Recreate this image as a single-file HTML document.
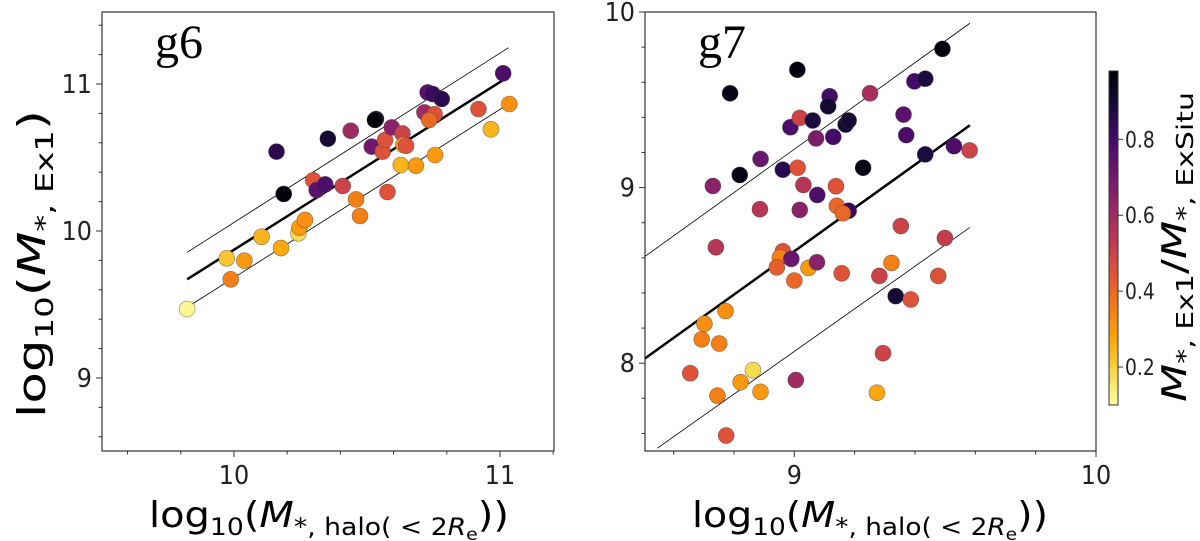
<!DOCTYPE html>
<html><head><meta charset="utf-8"><style>
html,body{margin:0;padding:0;background:#fff;}
svg{display:block;font-family:"DejaVu Sans","Liberation Sans",sans-serif;}
</style></head><body>
<svg id="chart" width="1200" height="541" viewBox="0 0 1200 541" xmlns="http://www.w3.org/2000/svg"></svg>
<script>
// ---- panel g6 data ----
const g6X = [9.824,9.973,9.988,10.039,10.104,10.177,10.160,10.187,10.242,10.246,10.267,10.298,10.311,10.343,10.353,10.409,10.439,10.459,10.474,10.518,10.534,10.530,10.559,10.568,10.577,10.593,10.627,10.633,10.637,10.647,10.684,10.716,10.728,10.747,10.754,10.756,10.781,10.919,10.966,11.012,11.035,10.734];
const g6Y = [9.469,9.814,9.671,9.798,9.961,9.884,10.540,10.252,9.984,10.023,10.075,10.345,10.279,10.317,10.628,10.306,10.682,10.215,10.102,10.574,10.762,10.755,10.540,10.619,10.265,10.705,10.449,10.664,10.585,10.580,10.444,10.807,10.943,10.932,10.794,10.517,10.898,10.830,10.692,11.073,10.864,10.755];
const g6C = [0.12,0.22,0.35,0.3,0.25,0.27,0.85,0.97,0.18,0.3,0.32,0.45,0.75,0.78,0.9,0.5,0.6,0.35,0.35,0.7,0.88,0.97,0.45,0.45,0.45,0.65,0.25,0.5,0.3,0.45,0.3,0.6,0.75,0.82,0.45,0.3,0.85,0.45,0.25,0.78,0.32,0.4];
const g6LineX = [9.824,11.032];
const g6FitY = [9.671,11.050];
const g6UpY = [9.855,11.247];
const g6LoY = [9.481,10.864];
const g6XTicks = [10,11];
const g6YTicks = [9,10,11];
// ---- panel g7 data ----
const g7X = [8.787,9.010,9.491,8.819,8.730,8.888,8.886,8.740,8.987,9.018,9.061,9.072,8.962,9.011,9.030,9.076,9.018,9.117,9.112,9.129,9.170,9.180,9.138,9.141,9.180,9.161,9.251,9.228,9.398,9.434,9.362,9.371,9.434,9.529,9.581,9.353,9.499,8.962,8.952,8.990,8.942,9.047,9.075,9.000,9.157,9.282,9.322,9.336,9.386,9.477,8.772,8.702,8.693,8.751,8.655,8.863,8.822,8.888,8.745,9.005,9.294,9.274,8.774];
const g7Y = [9.537,9.671,9.790,9.072,9.009,9.163,8.877,8.660,9.344,9.397,9.382,9.280,9.102,9.113,9.015,8.958,8.873,9.520,9.463,9.289,9.359,9.382,9.008,8.896,8.868,8.854,9.537,9.113,9.605,9.620,9.416,9.299,9.189,9.236,9.212,8.781,8.713,8.637,8.603,8.594,8.546,8.543,8.575,8.471,8.512,8.497,8.571,8.382,8.363,8.497,8.297,8.225,8.136,8.112,7.943,7.960,7.892,7.837,7.815,7.904,8.057,7.832,7.588];
const g7C = [0.95,0.96,0.97,0.95,0.65,0.72,0.55,0.55,0.78,0.5,0.88,0.68,0.85,0.45,0.55,0.78,0.65,0.8,0.9,0.8,0.9,0.9,0.45,0.4,0.82,0.4,0.58,0.95,0.8,0.88,0.75,0.78,0.88,0.78,0.5,0.5,0.52,0.45,0.35,0.72,0.42,0.3,0.65,0.4,0.45,0.5,0.35,0.9,0.45,0.45,0.32,0.32,0.35,0.35,0.45,0.18,0.3,0.3,0.35,0.6,0.5,0.27,0.45];
const g7LineX = [8.504,9.582];
const g7FitY = [8.026,9.355];
const g7UpY = [8.607,9.936];
const g7LoX = [8.546,9.582];
const g7LoY = [7.516,8.773];
const g7XTicks = [9,10];
const g7YTicks = [8,9,10];
const cbTicks = [0.2,0.4,0.6,0.8];
const cbMin = 0.1, cbMax = 0.98;

const NS = "http://www.w3.org/2000/svg";
const svg = document.getElementById('chart');
function mk(tag, attrs, parent){ const e=document.createElementNS(NS,tag); for(const k in attrs) e.setAttribute(k,attrs[k]); (parent||svg).appendChild(e); return e; }
const stops = ['#000004','#160b39','#420a68','#6a176e','#932667','#bc3754','#dd513a','#f37819','#fca50a','#f6d746','#fcffa4'];
function hex(h){return [parseInt(h.substr(1,2),16),parseInt(h.substr(3,2),16),parseInt(h.substr(5,2),16)];}
function inferno(t){ t=Math.max(0,Math.min(1,t)); const f=t*10, i=Math.min(9,Math.floor(f)), r=f-i; const a=hex(stops[i]), b=hex(stops[i+1]); return 'rgb('+a.map((v,k)=>Math.round(v+(b[k]-v)*r)).join(',')+')'; }
function cmap(v){ return inferno(1-(v-cbMin)/(cbMax-cbMin)); }

function panel(name, box, xd, yd, xs, ys, cs, lines, xt, yt, minorStep, label){
  const g = mk('g',{});
  
  
  const sx = v => box.x0 + (v-xd[0])/(xd[1]-xd[0])*(box.x1-box.x0);
  const sy = v => box.y1 - (v-yd[0])/(yd[1]-yd[0])*(box.y1-box.y0);
  lines.forEach(l=>{
    const ln = mk('line',{x1:sx(l.x[0]),y1:sy(l.y[0]),x2:sx(l.x[1]),y2:sy(l.y[1]),stroke:'#000','stroke-width':l.w},g);
    
    
  });
  xs.forEach((x,i)=>{
    const c = mk('circle',{cx:sx(x),cy:sy(ys[i]),r:8,fill:cmap(cs[i]),stroke:'rgba(60,60,60,0.6)','stroke-width':0.6},g);
    
    
  });
  const fr = mk('rect',{x:box.x0,y:box.y0,width:box.x1-box.x0,height:box.y1-box.y0,fill:'none',stroke:'#333','stroke-width':1.2},g);
  
  
  for(let v=Math.ceil(xd[0]/minorStep)*minorStep; v<=xd[1]+1e-9; v+=minorStep){
    const major = xt.some(t=>Math.abs(t-v)<1e-6);
    mk('line',{x1:sx(v),x2:sx(v),y1:box.y1,y2:box.y1+(major?6:3.5),stroke:'#333','stroke-width':1},g);
  }
  for(let v=Math.ceil(yd[0]/minorStep)*minorStep; v<=yd[1]+1e-9; v+=minorStep){
    const major = yt.some(t=>Math.abs(t-v)<1e-6);
    mk('line',{y1:sy(v),y2:sy(v),x1:box.x0,x2:box.x0-(major?6:3.5),stroke:'#333','stroke-width':1},g);
  }
  xt.forEach(t=>{
    const tx = mk('text',{x:sx(t),y:box.y1+33,'text-anchor':'middle','font-size':26,fill:'#222',transform:'translate('+sx(t)+',0) scale(0.92,1) translate('+(-sx(t))+',0)'},g);
    tx.textContent = t;
    
    
  });
  yt.forEach(t=>{
    const tx = mk('text',{x:box.x0-10,y:sy(t)+9,'text-anchor':'end','font-size':26,fill:'#222',transform:'translate('+(box.x0-10)+',0) scale(0.92,1) translate('+(-(box.x0-10))+',0)'},g);
    tx.textContent = t;
    
    
  });
  const ti = mk('text',{x:label.x,y:label.y,'font-size':48,'font-family':'"Liberation Serif",serif'},g);
  ti.textContent = name;
  
  
  return {sx,sy};
}

panel('g6',{x0:102,x1:554,y0:12,y1:451},[9.504,11.203],[8.503,11.49],g6X,g6Y,g6C,
  [{x:g6LineX,y:g6UpY,w:0.8,name:'g6-upper-line'},{x:g6LineX,y:g6LoY,w:0.8,name:'g6-lower-line'},{x:g6LineX,y:g6FitY,w:2.5,name:'g6-fit-line'}],
  g6XTicks,g6YTicks,0.2,{x:155,y:58});
panel('g7',{x0:645,x1:1096,y0:12,y1:451},[8.505,10],[7.5,10],g7X,g7Y,g7C,
  [{x:g7LineX,y:g7UpY,w:0.8,name:'g7-upper-line'},{x:g7LoX,y:g7LoY,w:0.8,name:'g7-lower-line'},{x:g7LineX,y:g7FitY,w:2.5,name:'g7-fit-line'}],
  g7XTicks,g7YTicks,0.2,{x:698,y:58});

const defs = mk('defs',{});
const grad = mk('linearGradient',{id:'cbg',x1:0,y1:1,x2:0,y2:0},defs);
for(let i=0;i<=20;i++){ const v=cbMin+(cbMax-cbMin)*i/20; mk('stop',{offset:(i/20),'stop-color':cmap(v)},grad); }
const cb = {x:1109,w:9,y0:71,y1:405};
const cbr = mk('rect',{x:cb.x,y:cb.y0,width:cb.w,height:cb.y1-cb.y0,fill:'url(#cbg)',stroke:'#333','stroke-width':1});


const cy = v => cb.y1 - (v-cbMin)/(cbMax-cbMin)*(cb.y1-cb.y0);
cbTicks.forEach(t=>{
  mk('line',{x1:cb.x+cb.w,x2:cb.x+cb.w+5,y1:cy(t),y2:cy(t),stroke:'#333','stroke-width':1});
  const tx = mk('text',{x:1125,y:cy(t)+8,'font-size':22,fill:'#222',transform:'translate(1125,0) scale(0.85,1) translate(-1125,0)'});
  tx.textContent = t.toFixed(1);
  
  
});
</script>
<svg width="1200" height="541" style="position:absolute;left:0;top:0" xmlns="http://www.w3.org/2000/svg" font-family="DejaVu Sans, Liberation Sans, sans-serif">
  <text x="149" y="527" font-size="36" textLength="360" lengthAdjust="spacingAndGlyphs">log<tspan font-size="24" dy="8">10</tspan><tspan dy="-8">(</tspan><tspan font-style="italic">M</tspan><tspan font-size="24" dy="8">*, halo( &lt; 2<tspan font-style="italic">R</tspan><tspan font-size="17" dy="5">e</tspan></tspan><tspan dy="-13">))</tspan></text>
  <text x="692" y="527" font-size="36" textLength="356" lengthAdjust="spacingAndGlyphs">log<tspan font-size="24" dy="8">10</tspan><tspan dy="-8">(</tspan><tspan font-style="italic">M</tspan><tspan font-size="24" dy="8">*, halo( &lt; 2<tspan font-style="italic">R</tspan><tspan font-size="17" dy="5">e</tspan></tspan><tspan dy="-13">))</tspan></text>
  <text transform="translate(45,418) rotate(-90)" font-size="38" textLength="308" lengthAdjust="spacingAndGlyphs">log<tspan font-size="25" dy="8">10</tspan><tspan dy="-8">(</tspan><tspan font-style="italic">M</tspan><tspan font-size="25" dy="8">*, Ex1</tspan><tspan dy="-8">)</tspan></text>
  <text transform="translate(1186,402) rotate(-90)" font-size="34" textLength="310" lengthAdjust="spacingAndGlyphs"><tspan font-style="italic">M</tspan><tspan font-size="23" dy="7">*, Ex1</tspan><tspan dy="-7">/</tspan><tspan font-style="italic">M</tspan><tspan font-size="23" dy="7">*, ExSitu</tspan></text>
</svg>
</body></html>
